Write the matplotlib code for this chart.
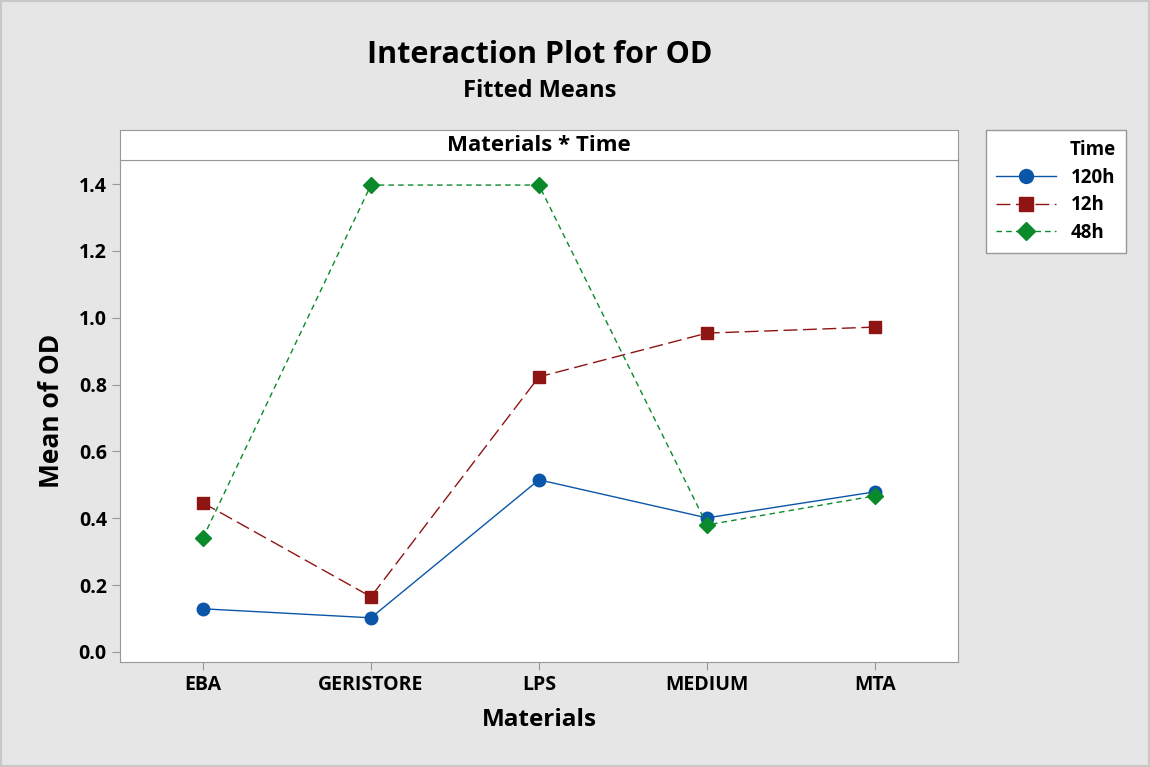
import matplotlib.pyplot as plt
from matplotlib.patches import Rectangle
from matplotlib.lines import Line2D

materials = ["EBA", "GERISTORE", "LPS", "MEDIUM", "MTA"]
od_120h = [0.129, 0.102, 0.515, 0.401, 0.479]
od_12h = [0.446, 0.165, 0.823, 0.954, 0.972]
od_48h = [0.341, 1.397, 1.397, 0.380, 0.467]
yticks = [0.0, 0.2, 0.4, 0.6, 0.8, 1.0, 1.2, 1.4]

plt.rcParams["font.family"] = ["Open Sans", "DejaVu Sans"]

fig = plt.figure(figsize=(11.5, 7.67), dpi=100, facecolor="#e6e6e6")
fig.patches.append(Rectangle((0.001, 0.001), 0.998, 0.998, transform=fig.transFigure,
                             fill=False, edgecolor="#c8c8c8", lw=1.5))

ax = fig.add_axes([0.1043, 0.137, 0.7287, 0.6544])
x = range(len(materials))

blue = "#0b56a8"
red = "#8f1515"
green = "#0a8a2a"

ax.plot(x, od_120h, color=blue, lw=1, marker="o", ms=9)
ax.plot(x, od_12h, color=red, lw=1, ls=(0, (10, 4)), marker="s", ms=9)
ax.plot(x, od_48h, color=green, lw=1, ls=(0, (4, 3)), marker="D", ms=8)

ax.set_xlim(-0.494, 4.494)
ax.set_ylim(-0.03, 1.472)
ax.set_xticks(list(x))
ax.set_xticklabels(materials, fontsize=14, fontweight="bold")
ax.set_yticks(yticks)
ax.set_yticklabels([f"{v:.1f}" for v in yticks], fontsize=14, fontweight="bold")
ax.tick_params(colors="#999999", labelcolor="black", length=6)
for s in ax.spines.values():
    s.set_color("#999999")

ax.set_xlabel("Materials", fontsize=17.5, fontweight="bold", labelpad=9)
ax.set_ylabel("Mean of OD", fontsize=19, fontweight="bold", labelpad=10)

# strip header
strip = fig.add_axes([0.1043, 0.7914, 0.7287, 0.0391])
strip.set_xticks([])
strip.set_yticks([])
for s in strip.spines.values():
    s.set_color("#999999")
strip.text(0.5, 0.5, "Materials * Time", ha="center", va="center",
           fontsize=16, fontweight="bold", transform=strip.transAxes)

fig.text(0.469, 0.928, "Interaction Plot for OD", ha="center", va="center",
         fontsize=22, fontweight="bold")
fig.text(0.469, 0.881, "Fitted Means", ha="center", va="center",
         fontsize=17, fontweight="bold")

handles = [
    Line2D([], [], color=blue, lw=1, marker="o", ms=10),
    Line2D([], [], color=red, lw=1, ls=(0, (10, 4)), marker="s", ms=10),
    Line2D([], [], color=green, lw=1, ls=(0, (4, 3)), marker="D", ms=9),
]
leg = fig.legend(handles, ["120h", "12h", "48h"], title="Time",
                 loc="upper left", bbox_to_anchor=(0.857, 0.8305), borderaxespad=0,
                 frameon=True, fancybox=False, edgecolor="#999999", framealpha=1,
                 prop={"weight": "bold", "size": 13.5},
                 title_fontproperties={"weight": "bold", "size": 13.5},
                 handlelength=3.2, borderpad=0.55, labelspacing=0.4)
leg._legend_box.align = "right"

fig.savefig("out.png", dpi=100, facecolor=fig.get_facecolor())
